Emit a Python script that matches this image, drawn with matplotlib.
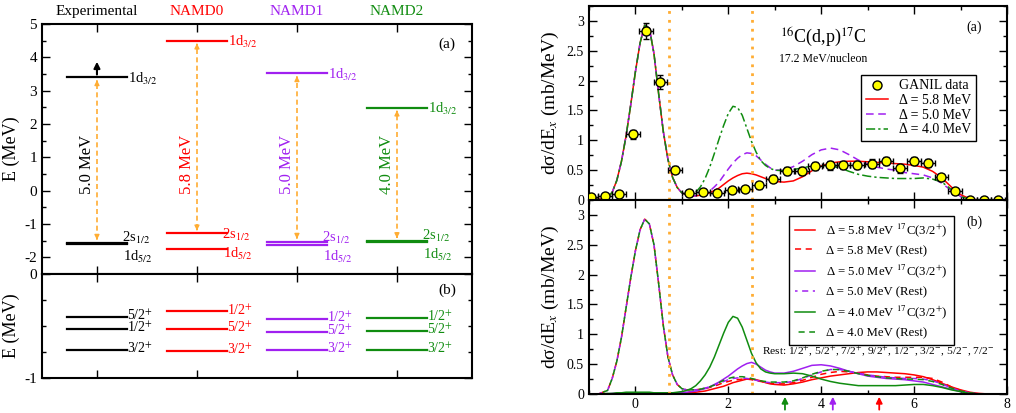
import numpy as np
import matplotlib.pyplot as plt
from matplotlib.ticker import MultipleLocator, FormatStrFormatter

plt.rcParams['font.family'] = ['Liberation Serif', 'DejaVu Serif']
plt.rcParams['mathtext.fontset'] = 'stix'

# ---------------- level schemes (left) ----------------
models = ["Experimental", "NAMD0", "NAMD1", "NAMD2"]
model_colors = ["black", "#ff0000", "#a020f0", "#108c10"]
lvl_d32 = [3.40, 4.50, 3.52, 2.49]
lvl_s12 = [-1.56, -1.28, -1.53, -1.51]
lvl_d52 = [-1.60, -1.74, -1.63, -1.55]
gap_text = ["5.0 MeV", "5.8 MeV", "5.0 MeV", "4.0 MeV"]

# 17C low-lying states (panel b, left)
states_17c = [["5/2", "1/2", "3/2"], ["1/2", "5/2", "3/2"],
              ["1/2", "5/2", "3/2"], ["1/2", "5/2", "3/2"]]
e_17c = [[-0.41, -0.53, -0.73], [-0.36, -0.53, -0.74],
         [-0.43, -0.56, -0.73], [-0.42, -0.55, -0.73]]

# ---------------- cross sections (right) ----------------
ganil_x = [-0.96, -0.66, -0.36, -0.05, 0.23, 0.54, 0.85, 1.15, 1.46, 1.76,
           2.07, 2.36, 2.66, 2.96, 3.27, 3.58, 3.87, 4.18, 4.48, 4.78,
           5.09, 5.39, 5.69, 5.99, 6.30, 6.59, 6.89, 7.20, 7.50, 7.81]
ganil_y = [0.05, 0.07, 0.10, 1.10, 2.83, 1.98, 0.51, 0.12, 0.14, 0.11,
           0.16, 0.19, 0.25, 0.36, 0.49, 0.49, 0.57, 0.58, 0.59, 0.59,
           0.61, 0.65, 0.53, 0.65, 0.62, 0.38, 0.15, 0.00, 0.00, 0.00]
ganil_yerr = [0.03, 0.03, 0.04, 0.08, 0.14, 0.12, 0.06, 0.05, 0.05, 0.05,
              0.05, 0.05, 0.06, 0.06, 0.07, 0.07, 0.07, 0.07, 0.07, 0.07,
              0.07, 0.07, 0.07, 0.07, 0.07, 0.06, 0.05, 0.02, 0.02, 0.02]
ganil_xerr = 0.15

ex = [-1.0, -0.8, -0.6, -0.5, -0.4, -0.3, -0.2, -0.1, 0.0, 0.1, 0.2, 0.3, 0.4,
      0.5, 0.6, 0.7, 0.8, 0.9, 1.0,
      1.1, 1.2, 1.3, 1.4, 1.5, 1.6, 1.7, 1.8, 1.9, 2.0, 2.1, 2.2, 2.3, 2.4,
      2.5, 2.6, 2.7, 2.8, 2.9, 3.0,
      3.2, 3.4, 3.6, 3.8, 4.0, 4.2, 4.4, 4.6, 4.8, 5.0, 5.2, 5.4, 5.6, 5.8,
      6.0, 6.2, 6.4, 6.6, 6.8, 7.0, 7.2, 7.4, 7.6, 8.0]

# ground-state peak, E_x <= 1 MeV
peak_a = [0.03, 0.01, 0.04, 0.13, 0.33, 0.65, 1.08, 1.60, 2.15, 2.63, 2.93,
          2.88, 2.45, 1.78, 1.15, 0.68, 0.38, 0.21, 0.12]
peak_b = [0.00, 0.00, 0.06, 0.26, 0.55, 0.95, 1.45, 1.95, 2.40, 2.75, 2.93,
          2.85, 2.50, 1.85, 1.15, 0.62, 0.32, 0.16, 0.09]
low_32 = [0.00, 0.00, 0.01, 0.01, 0.02, 0.02, 0.03, 0.03, 0.03, 0.03, 0.03,
          0.03, 0.02, 0.02, 0.02, 0.02, 0.02, 0.03, 0.04]
low_32b = [0.00, 0.00, 0.00, 0.01, 0.01, 0.01, 0.01, 0.02, 0.02, 0.02, 0.02,
           0.02, 0.02, 0.02, 0.02, 0.02, 0.02, 0.02, 0.03]
low_32c = [0.00, 0.00, 0.00, 0.00, 0.01, 0.01, 0.01, 0.01, 0.01, 0.01, 0.01,
           0.01, 0.01, 0.01, 0.01, 0.01, 0.01, 0.01, 0.02]

# panel (a) totals, E_x > 1 MeV
tail_a58 = [0.08, 0.07, 0.07, 0.08, 0.10, 0.12, 0.16, 0.20, 0.26, 0.32,
            0.37, 0.41, 0.44, 0.45, 0.44, 0.42, 0.39, 0.36, 0.33, 0.31,
            0.30, 0.32, 0.39, 0.49, 0.57, 0.62, 0.64, 0.65, 0.65, 0.64,
            0.63, 0.62, 0.61, 0.60, 0.58, 0.55, 0.48, 0.37, 0.22, 0.09,
            0.02, 0.00, 0.00, 0.00]
tail_a50 = [0.08, 0.07, 0.07, 0.08, 0.11, 0.15, 0.22, 0.30, 0.41, 0.52,
            0.62, 0.70, 0.76, 0.79, 0.78, 0.74, 0.67, 0.60, 0.54, 0.50,
            0.50, 0.56, 0.65, 0.76, 0.84, 0.87, 0.84, 0.76, 0.67, 0.60,
            0.55, 0.52, 0.50, 0.46, 0.44, 0.42, 0.37, 0.28, 0.16, 0.06,
            0.01, 0.00, 0.00, 0.00]
tail_a40 = [0.09, 0.09, 0.13, 0.22, 0.36, 0.55, 0.78, 1.02, 1.25, 1.45,
            1.57, 1.55, 1.42, 1.20, 0.98, 0.80, 0.66, 0.58, 0.53, 0.50,
            0.49, 0.51, 0.54, 0.57, 0.58, 0.57, 0.54, 0.48, 0.43, 0.40,
            0.38, 0.37, 0.36, 0.36, 0.36, 0.37, 0.35, 0.30, 0.18, 0.06,
            0.01, 0.00, 0.00, 0.00]

# panel (b): 17C(3/2+) contributions, E_x > 1 MeV
tail_b58_32 = [0.02, 0.03, 0.03, 0.04, 0.05, 0.07, 0.09, 0.11, 0.13, 0.16,
               0.19, 0.21, 0.23, 0.25, 0.25, 0.24, 0.22, 0.19, 0.17, 0.16,
               0.15, 0.17, 0.20, 0.24, 0.27, 0.30, 0.32, 0.34, 0.36, 0.37,
               0.37, 0.36, 0.35, 0.34, 0.32, 0.29, 0.24, 0.18, 0.12, 0.07,
               0.03, 0.01, 0.00, 0.00]
tail_b50_32 = [0.03, 0.04, 0.05, 0.07, 0.09, 0.12, 0.16, 0.20, 0.25, 0.30,
               0.36, 0.42, 0.47, 0.51, 0.53, 0.50, 0.45, 0.40, 0.37, 0.35,
               0.35, 0.38, 0.43, 0.48, 0.49, 0.47, 0.43, 0.38, 0.34, 0.30,
               0.28, 0.26, 0.25, 0.24, 0.22, 0.20, 0.16, 0.12, 0.08, 0.04,
               0.01, 0.00, 0.00, 0.00]
tail_b40_32 = [0.06, 0.09, 0.14, 0.22, 0.32, 0.45, 0.62, 0.82, 1.02, 1.20,
               1.30, 1.27, 1.12, 0.90, 0.68, 0.52, 0.42, 0.37, 0.35, 0.34,
               0.34, 0.35, 0.34, 0.30, 0.25, 0.21, 0.18, 0.16, 0.14, 0.14,
               0.14, 0.14, 0.14, 0.15, 0.16, 0.16, 0.14, 0.11, 0.07, 0.04,
               0.01, 0.00, 0.00, 0.00]
# panel (b): rest of the states
tail_b58_rest = [0.07, 0.07, 0.07, 0.08, 0.09, 0.11, 0.13, 0.16, 0.19, 0.21,
                 0.23, 0.24, 0.25, 0.25, 0.24, 0.22, 0.21, 0.19, 0.18, 0.17,
                 0.17, 0.19, 0.23, 0.28, 0.33, 0.36, 0.38, 0.37, 0.35, 0.32,
                 0.30, 0.29, 0.28, 0.28, 0.28, 0.28, 0.26, 0.20, 0.12, 0.06,
                 0.02, 0.00, 0.00, 0.00]
tail_b50_rest = [0.07, 0.07, 0.07, 0.08, 0.10, 0.12, 0.15, 0.18, 0.21, 0.24,
                 0.26, 0.27, 0.27, 0.26, 0.25, 0.23, 0.21, 0.20, 0.19, 0.19,
                 0.19, 0.21, 0.26, 0.32, 0.37, 0.41, 0.41, 0.38, 0.35, 0.32,
                 0.30, 0.28, 0.27, 0.26, 0.26, 0.25, 0.22, 0.17, 0.10, 0.05,
                 0.02, 0.00, 0.00, 0.00]
tail_b40_rest = [0.07, 0.07, 0.07, 0.08, 0.10, 0.12, 0.15, 0.19, 0.23, 0.26,
                 0.28, 0.29, 0.29, 0.28, 0.26, 0.24, 0.22, 0.21, 0.20, 0.20,
                 0.20, 0.22, 0.27, 0.33, 0.38, 0.41, 0.41, 0.38, 0.34, 0.31,
                 0.29, 0.27, 0.26, 0.25, 0.25, 0.24, 0.21, 0.16, 0.10, 0.05,
                 0.02, 0.00, 0.00, 0.00]

deltas = ["5.8", "5.0", "4.0"]
arrow_3half = [5.25, 4.25, 3.22]   # 3/2+ positions marked under panel (b)
ex_cuts = [0.73, 2.50]

orange = "#ffad33"
red, purple, green = model_colors[1], model_colors[2], model_colors[3]
curve_colors = [red, purple, green]


def frame(ax, lw=1.5):
    for s in ax.spines.values():
        s.set_linewidth(lw)
    ax.tick_params(which='both', direction='in', top=True, right=True, width=1)
    ax.tick_params(which='major', length=6)
    ax.tick_params(which='minor', length=3)


fig = plt.figure(figsize=(10.16, 4.13), dpi=100)
axL1 = fig.add_axes([0.0413, 0.3366, 0.4232, 0.6053])
axL2 = fig.add_axes([0.0413, 0.0847, 0.4232, 0.2519])
axR1 = fig.add_axes([0.5797, 0.5157, 0.4114, 0.4697])
axR2 = fig.add_axes([0.5797, 0.0460, 0.4114, 0.4697])

# ---------- left (a): single-particle levels ----------
for i, c in enumerate(model_colors):
    xc = i + 1
    x0, x1 = xc - 0.3, xc + 0.3
    for e in (lvl_d32[i], lvl_s12[i], lvl_d52[i]):
        axL1.plot([x0, x1], [e, e], color=c, lw=1.6)
    axL1.text(x1 + 0.01, lvl_d32[i] - 0.05, r"1d$_{3/2}$", color=c, fontsize=10.5, va='center')
    mid = 0.5 * (lvl_s12[i] + lvl_d52[i])
    ys = max(lvl_s12[i], mid + 0.22) - 0.06
    yd = min(lvl_d52[i], mid - 0.36) - 0.04
    axL1.text(x1 - 0.05, ys, r"2s$_{1/2}$", color=c, fontsize=10.5, va='center')
    axL1.text(x1 - 0.04, yd, r"1d$_{5/2}$", color=c, fontsize=10.5, va='center')
    # gap arrow
    axL1.plot([xc, xc], [lvl_s12[i] + 0.12, lvl_d32[i] - 0.12], color=orange, lw=1.2, ls=(0, (3, 2)))
    axL1.annotate('', xy=(xc, lvl_d32[i]), xytext=(xc, lvl_d32[i] - 0.2),
                  arrowprops=dict(arrowstyle='-|>', color=orange, lw=1.0, mutation_scale=7))
    axL1.annotate('', xy=(xc, lvl_s12[i]), xytext=(xc, lvl_s12[i] + 0.2),
                  arrowprops=dict(arrowstyle='-|>', color=orange, lw=1.0, mutation_scale=7))
    axL1.text(xc - 0.1, 0.8, gap_text[i], color=c, fontsize=12, rotation=90,
              ha='center', va='center')
    axL1.text(xc, 1.048, models[i], color=c, fontsize=11, ha='center', va='center',
              transform=axL1.get_xaxis_transform())

axL1.annotate('', xy=(1, 3.95), xytext=(1, lvl_d32[0]),
              arrowprops=dict(arrowstyle='-|>', color='black', lw=1.5, mutation_scale=9))
axL1.text(4.5, 4.4, "(a)", fontsize=11, ha='center', va='center')
axL1.set_xlim(0.45, 4.75)
axL1.set_ylim(-2.5, 5)
axL1.xaxis.set_major_locator(MultipleLocator(1))
axL1.tick_params(axis='x', labelbottom=False)
axL1.yaxis.set_major_locator(MultipleLocator(1))
axL1.yaxis.set_minor_locator(MultipleLocator(0.5))
axL1.yaxis.set_major_formatter(FormatStrFormatter('%g'))
axL1.tick_params(axis='y', labelsize=11)
axL1.set_ylabel("E (MeV)", fontsize=13)
axL1.yaxis.set_label_coords(-0.05, 0.5)
frame(axL1)

# ---------- left (b): 17C states ----------
for i, c in enumerate(model_colors):
    xc = i + 1
    for jp, e in zip(states_17c[i], e_17c[i]):
        axL2.plot([xc - 0.3, xc + 0.3], [e, e], color=c, lw=1.6)
        axL2.text(xc + 0.3, e + 0.01, jp + r"$^{+}$", color=c, fontsize=10, va='center')
axL2.text(4.5, -0.16, "(b)", fontsize=11, ha='center', va='center')
axL2.set_xlim(0.45, 4.75)
axL2.set_ylim(-1, 0)
axL2.xaxis.set_major_locator(MultipleLocator(1))
axL2.tick_params(axis='x', labelbottom=False)
axL2.yaxis.set_major_locator(MultipleLocator(1))
axL2.yaxis.set_minor_locator(MultipleLocator(0.25))
axL2.yaxis.set_major_formatter(FormatStrFormatter('%g'))
axL2.tick_params(axis='y', labelsize=11)
axL2.set_ylabel("E (MeV)", fontsize=13)
axL2.yaxis.set_label_coords(-0.05, 0.5)
frame(axL2)

# ---------- right (a): totals vs GANIL ----------
axR1.plot(ex, peak_a + tail_a58, color=red, lw=1.1, label="Δ = 5.8 MeV")
axR1.plot(ex, peak_a + tail_a50, color=purple, lw=1.1, ls=(0, (5, 3)), label="Δ = 5.0 MeV")
axR1.plot(ex, peak_a + tail_a40, color=green, lw=1.1, ls=(0, (6, 2, 1.5, 2)), label="Δ = 4.0 MeV")
axR1.errorbar(ganil_x, ganil_y, xerr=ganil_xerr, yerr=ganil_yerr, fmt='none',
              ecolor='black', elinewidth=1, capsize=2.5, zorder=4)
axR1.plot(ganil_x, ganil_y, 'o', ms=6.5, mfc='#ffff00', mec='black', mew=1,
          zorder=5, label="GANIL data")
for xv in ex_cuts:
    axR1.axvline(xv, color=orange, ls=(0, (1, 2.2)), lw=2)
h, l = axR1.get_legend_handles_labels()
order = [3, 0, 1, 2]
axR1.legend([h[k] for k in order], [l[k] for k in order], loc='upper right',
            bbox_to_anchor=(0.926, 0.647), fontsize=10, frameon=True, fancybox=False,
            edgecolor='black', framealpha=1, handlelength=1.6, labelspacing=0.12,
            borderpad=0.35, handletextpad=0.8, borderaxespad=0)
axR1.get_legend().get_frame().set_linewidth(1)
axR1.text(4.05, 2.72, r"$^{16}$C(d,p)$^{17}$C", fontsize=13, ha='center', va='center')
axR1.text(4.05, 2.36, "17.2 MeV/nucleon", fontsize=8.5, ha='center', va='center')
axR1.text(7.3, 2.9, "(a)", fontsize=10, ha='center', va='center')
axR1.set_xlim(-1, 8)
axR1.set_ylim(0, 3.25)
axR1.xaxis.set_major_locator(MultipleLocator(2))
axR1.xaxis.set_minor_locator(MultipleLocator(1))
axR1.tick_params(axis='x', labelbottom=False)
axR1.yaxis.set_major_locator(MultipleLocator(0.5))
axR1.yaxis.set_minor_locator(MultipleLocator(0.25))
axR1.yaxis.set_major_formatter(FormatStrFormatter('%g'))
axR1.tick_params(axis='y', labelsize=10)
axR1.set_ylabel(r"dσ/dE$_x$ (mb/MeV)", fontsize=14)
axR1.yaxis.set_label_coords(-0.068, 0.5)
frame(axR1)

# ---------- right (b): 3/2+ vs rest ----------
lows = [low_32c, low_32b, low_32]
tails_32 = [tail_b58_32, tail_b50_32, tail_b40_32]
tails_rest = [tail_b58_rest, tail_b50_rest, tail_b40_rest]
dash_offsets = [0, 2.33, 4.67]
for d, c, lo, t32, trest, off in zip(deltas, curve_colors, lows, tails_32, tails_rest, dash_offsets):
    axR2.plot(ex, lo + t32, color=c, lw=1.1,
              label="Δ = " + d + r" MeV $^{17}$C(3/2$^{+}$)")
    axR2.plot(ex, peak_b + trest, color=c, lw=1.1, ls=(off, (4, 3)),
              label="Δ = " + d + " MeV (Rest)")
for xv in ex_cuts:
    axR2.axvline(xv, color=orange, ls=(0, (1, 2.2)), lw=2)
for xa, c in zip(arrow_3half, curve_colors):
    axR2.annotate('', xy=(xa, 0.0), xycoords=('data', 'axes fraction'),
                  xytext=(xa, -0.095), textcoords=('data', 'axes fraction'),
                  arrowprops=dict(arrowstyle='-|>', color=c, lw=1.3, mutation_scale=9),
                  annotation_clip=False)
leg = axR2.legend(loc='upper left', bbox_to_anchor=(0.478, 0.918), fontsize=9.2,
                  frameon=True, fancybox=False, edgecolor='black', framealpha=1,
                  handlelength=1.6, labelspacing=0.45, borderpad=0.45,
                  handletextpad=0.9, borderaxespad=0)
leg.get_frame().set_linewidth(1)
axR2.text(2.73, 0.71, r"Rest: 1/2$^{+}$, 5/2$^{+}$, 7/2$^{+}$, 9/2$^{+}$, 1/2$^{-}$, 3/2$^{-}$, 5/2$^{-}$, 7/2$^{-}$",
          fontsize=8.2, va='center')
axR2.text(7.3, 2.87, "(b)", fontsize=10, ha='center', va='center')
axR2.set_xlim(-1, 8)
axR2.set_ylim(0, 3.25)
axR2.xaxis.set_major_locator(MultipleLocator(2))
axR2.xaxis.set_minor_locator(MultipleLocator(1))
axR2.yaxis.set_major_locator(MultipleLocator(0.5))
axR2.yaxis.set_minor_locator(MultipleLocator(0.25))
axR2.yaxis.set_major_formatter(FormatStrFormatter('%g'))
axR2.tick_params(axis='both', labelsize=10)
axR2.tick_params(axis='x', pad=3)
axR2.set_ylabel(r"dσ/dE$_x$ (mb/MeV)", fontsize=14)
axR2.yaxis.set_label_coords(-0.068, 0.5)
frame(axR2)

fig.savefig("out.png", dpi=100)
